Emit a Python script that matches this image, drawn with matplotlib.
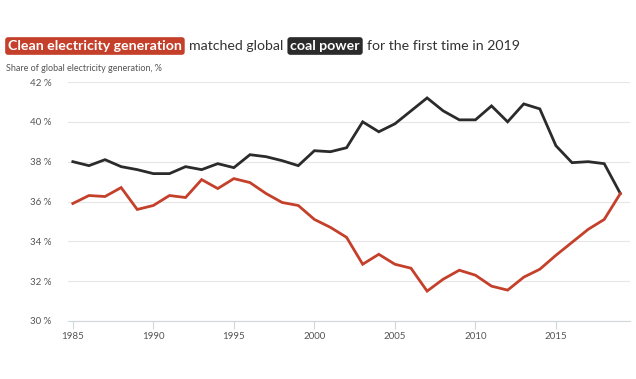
import matplotlib
matplotlib.use("Agg")
import matplotlib.pyplot as plt

# Data
years = list(range(1985, 2020))
coal = [38.0, 37.8, 38.1, 37.75, 37.6, 37.4, 37.4, 37.75, 37.6, 37.9,
        37.7, 38.35, 38.25, 38.05, 37.8, 38.55, 38.5, 38.7, 40.0, 39.5,
        39.9, 40.55, 41.2, 40.55, 40.1, 40.1, 40.8, 40.0, 40.9, 40.65,
        38.8, 37.95, 38.0, 37.9, 36.4]
clean = [35.9, 36.3, 36.25, 36.7, 35.6, 35.8, 36.3, 36.2, 37.1, 36.65,
         37.15, 36.95, 36.4, 35.95, 35.8, 35.1, 34.7, 34.2, 32.85, 33.35,
         32.85, 32.65, 31.5, 32.1, 32.55, 32.3, 31.75, 31.55, 32.2, 32.6,
         33.3, 33.95, 34.6, 35.1, 36.4]
yticks = [30, 32, 34, 36, 38, 40, 42]
xticks = [1985, 1990, 1995, 2000, 2005, 2010, 2015]

RED = "#c4402b"
DARK = "#2b2b2b"
plt.rcParams["font.family"] = ["Lato", "DejaVu Sans"]

fig = plt.figure(figsize=(6.36, 3.79), dpi=100)
ax = fig.add_axes([68 / 636, 1 - 321 / 379, (630 - 68) / 636, (321 - 82) / 379])

ax.plot(years, coal, color=DARK, lw=2, solid_joinstyle="miter")
ax.plot(years, clean, color=RED, lw=2, solid_joinstyle="miter")

ax.set_ylim(30, 42)
ax.set_xlim(1984.7, 2019.6)
ax.set_yticks(yticks)
ax.set_yticklabels([f"{t} %" for t in yticks], color="#555555", fontsize=7)
ax.set_xticks(xticks)
ax.set_xticklabels([str(t) for t in xticks], color="#555555", fontsize=7)
ax.grid(axis="y", color="#e6e6e6", lw=0.8)
ax.set_axisbelow(True)
for s in ["top", "right", "left"]:
    ax.spines[s].set_visible(False)
ax.spines["bottom"].set_color("#cfd8dc")
ax.tick_params(axis="y", length=0, pad=12)
ax.tick_params(axis="x", length=6, color="#cfd8dc", pad=2)

# Title built from pieces, two of them highlighted
fig.canvas.draw()
r = fig.canvas.get_renderer()
pieces = [("Clean electricity generation", RED),
          ("matched global", None),
          ("coal power", DARK),
          ("for the first time in 2019", None)]
x = 8
y = 1 - 50 / 379
for txt, bg in pieces:
    kw = dict(fontsize=10.2, va="baseline", ha="left")
    if bg:
        kw.update(color="white", fontweight="bold",
                  bbox=dict(boxstyle="round,pad=0.2,rounding_size=0.2", fc=bg, ec="none"))
    else:
        kw.update(color="#333333")
    t = fig.text(x / 636, y, txt, **kw)
    bb = t.get_window_extent(r)
    x += bb.width + 7

fig.text(6 / 636, 1 - 71 / 379, "Share of global electricity generation, %",
         fontsize=6.5, color="#555555", ha="left", va="baseline")

fig.savefig("out.png", dpi=100, facecolor="white")
